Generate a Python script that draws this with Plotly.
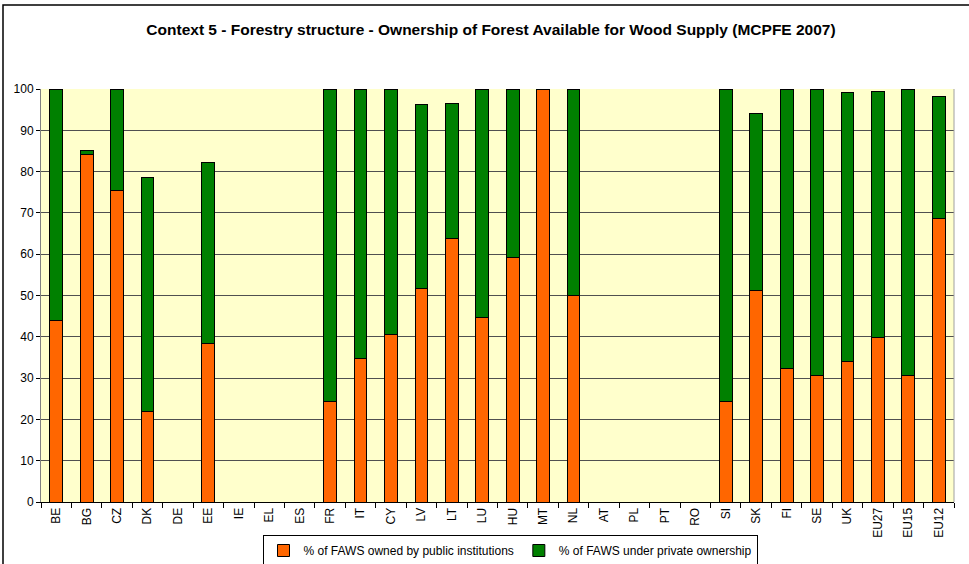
import plotly.graph_objects as go

# Member states and EU aggregates, in reporting order
countries = ["BE", "BG", "CZ", "DK", "DE", "EE", "IE", "EL", "ES", "FR", "IT", "CY",
             "LV", "LT", "LU", "HU", "MT", "NL", "AT", "PL", "PT", "RO", "SI", "SK",
             "FI", "SE", "UK", "EU27", "EU15", "EU12"]

# Share of forest available for wood supply (%), None where not reported
public_share = [44.0, 84.2, 75.5, 22.0, None, 38.3, None, None, None, 24.4, 34.8, 40.5,
                51.8, 63.7, 44.6, 59.3, 100.0, 50.1, None, None, None, None, 24.4, 51.3,
                32.4, 30.6, 34.1, 39.8, 30.6, 68.6]
private_share = [56.0, 0.8, 24.5, 56.6, None, 44.0, None, None, None, 75.6, 65.2, 59.5,
                 44.4, 32.7, 55.4, 40.5, 0.0, 49.9, None, None, None, None, 75.6, 42.8,
                 67.6, 69.4, 65.1, 59.7, 69.4, 29.5]

y_ticks = [0, 10, 20, 30, 40, 50, 60, 70, 80, 90, 100]

FONT = "Liberation Sans, Arial, sans-serif"
PLOT_W, PLOT_H = 913, 413

fig = go.Figure()
fig.add_trace(go.Bar(
    x=countries, y=public_share, name="% of FAWS owned by public institutions",
    marker=dict(color="#FF6600", line=dict(color="#000000", width=1)),
    width=0.42,
))
fig.add_trace(go.Bar(
    x=countries, y=private_share, name="% of FAWS under private ownership",
    marker=dict(color="#008000", line=dict(color="#000000", width=1)),
    width=0.42,
))

fig.update_layout(
    width=969, height=564,
    barmode="stack",
    paper_bgcolor="#FFFFFF",
    plot_bgcolor="#FFFFCC",
    margin=dict(l=41, r=15, t=89, b=62, autoexpand=False),
    font=dict(family=FONT, size=12, color="#000000"),
    title=dict(
        text="<b>Context 5 - Forestry structure - Ownership of Forest Available for Wood Supply (MCPFE 2007)</b>",
        x=491 / 969, xref="container", xanchor="center",
        y=1 - 30 / 564, yref="container", yanchor="middle",
        font=dict(family=FONT, size=15.5, color="#000000"),
    ),
    showlegend=True,
    legend=dict(
        orientation="h",
        x=(510 - 41) / PLOT_W, xanchor="center", xref="paper",
        y=-(535 - 502) / PLOT_H, yanchor="top", yref="paper",
        bordercolor="#000000", borderwidth=1,
        bgcolor="#FFFFFF",
        font=dict(family=FONT, size=12),
        itemwidth=30,
        tracegroupgap=0,
        traceorder="normal",
    ),
    shapes=[
        # outer chart frame
        dict(type="rect", xref="paper", yref="paper",
             x0=-38 / PLOT_W, x1=1 + 30 / PLOT_W, y0=-80 / PLOT_H, y1=1 + 84 / PLOT_H,
             line=dict(color="#000000", width=1.5), fillcolor="rgba(0,0,0,0)",
             layer="below"),
        # right edge of the plotting area
        dict(type="line", xref="paper", yref="paper", x0=1, x1=1, y0=0, y1=1,
             line=dict(color="#A0A0A0", width=1)),
    ],
)

fig.update_xaxes(
    type="category",
    automargin=False,
    tickangle=-90,
    tickson="boundaries",
    ticks="outside", ticklen=5, tickcolor="#000000",
    showline=True, linecolor="#000000", linewidth=1,
    tickfont=dict(family=FONT, size=12),
    showgrid=False,
)
fig.update_yaxes(
    automargin=False,
    range=[0, 100],
    tickvals=y_ticks,
    ticks="outside", ticklen=4, tickcolor="#000000",
    showline=True, linecolor="#808080", linewidth=1,
    showgrid=True, gridcolor="#505050", gridwidth=1,
    tickfont=dict(family=FONT, size=12),
    zeroline=False,
)

fig.write_html("out.html")
